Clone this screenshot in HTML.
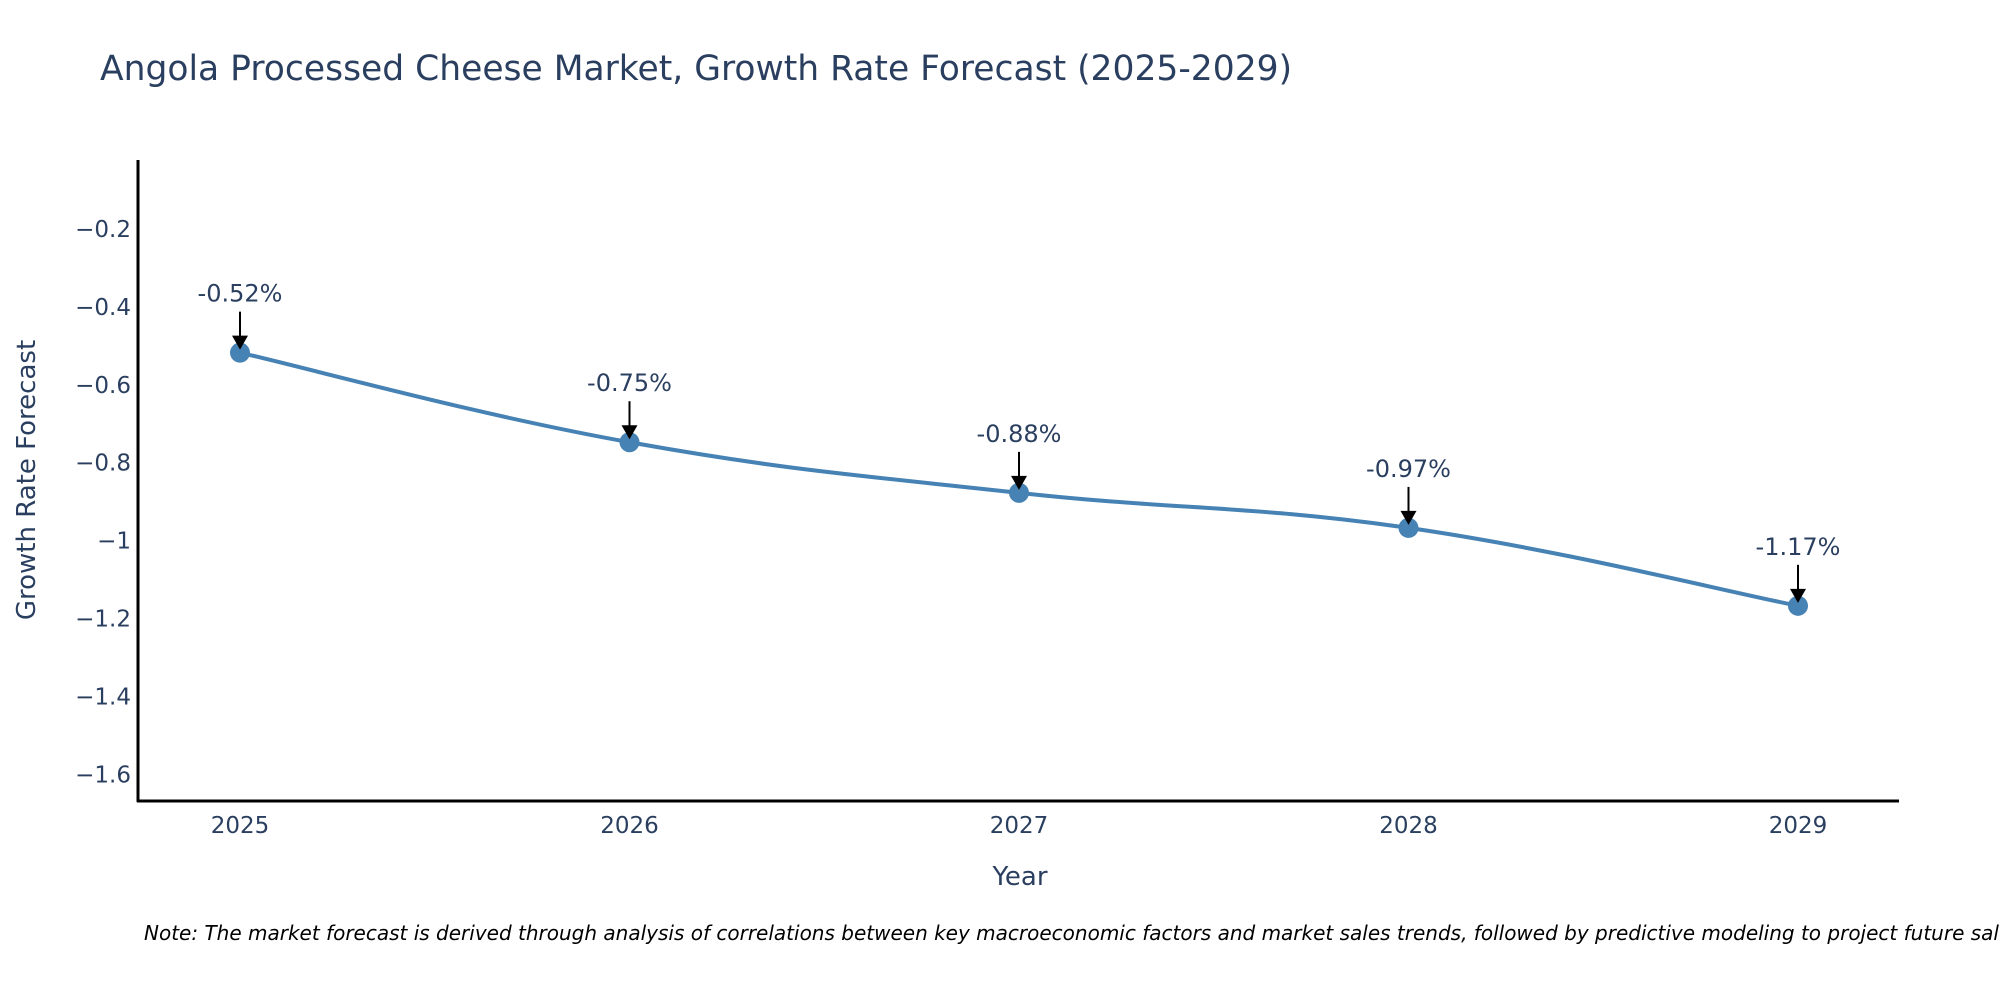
<!DOCTYPE html>
<html><head><meta charset="utf-8"><style>
html,body{margin:0;padding:0;background:#fff;}
svg{display:block;font-family:"DejaVu Sans","Liberation Sans",sans-serif;}
</style></head><body>
<svg id="chart" width="2000" height="1000" viewBox="0 0 2000 1000">
<text x="100" y="80" font-size="34.5" fill="#2a3f5f">Angola Processed Cheese Market, Growth Rate Forecast (2025-2029)</text>
<g id="yticks"></g>
<g id="xticks"></g>
<g id="series"></g>
<g id="annos"></g>
<line x1="138" y1="160" x2="138" y2="802" stroke="#000" stroke-width="3"/>
<line x1="137" y1="801" x2="1899" y2="801" stroke="#000" stroke-width="3"/>
<text x="1020" y="885" font-size="26" fill="#2a3f5f" text-anchor="middle">Year</text>
<text transform="translate(35,480) rotate(-90)" font-size="26" fill="#2a3f5f" text-anchor="middle">Growth Rate Forecast</text>
<text x="144" y="940" font-size="20" font-style="italic" fill="#000">Note: The market forecast is derived through analysis of correlations between key macroeconomic factors and market sales trends, followed by predictive modeling to project future sales.</text>
</svg>
<script>
const years = [2025, 2026, 2027, 2028, 2029];
const values = [-0.52, -0.75, -0.88, -0.97, -1.17];
const labels = ["-0.52%", "-0.75%", "-0.88%", "-0.97%", "-1.17%"];
const yTickValues = [-0.2, -0.4, -0.6, -0.8, -1, -1.2, -1.4, -1.6];
const yTickLabels = ["\u22120.2", "\u22120.4", "\u22120.6", "\u22120.8", "\u22121", "\u22121.2", "\u22121.4", "\u22121.6"];

const NS = "http://www.w3.org/2000/svg";
const xS = v => 240 + (v - 2025) * 389.5;
const yS = v => 228 + (-0.2 - v) / 0.2 * 77.9;
function mk(tag, attrs, parent) {
  const e = document.createElementNS(NS, tag);
  for (const k in attrs) e.setAttribute(k, attrs[k]);
  parent.appendChild(e);
  return e;
}
const yt = document.getElementById('yticks');
yTickValues.forEach((v, i) => {
  const t = mk('text', {x: 131, y: yS(v) + 9, 'font-size': 23, fill: '#2a3f5f', 'text-anchor': 'end'}, yt);
  t.textContent = yTickLabels[i];
  
  
});
const xt = document.getElementById('xticks');
years.forEach(y => {
  const t = mk('text', {x: xS(y), y: 833, 'font-size': 23, fill: '#2a3f5f', 'text-anchor': 'middle'}, xt);
  t.textContent = String(y);
  
  
});
const pts = years.map((y, i) => [xS(y), yS(values[i])]);
let d = `M${pts[0][0]},${pts[0][1]}`;
const s = 0.2;
for (let i = 0; i < pts.length - 1; i++) {
  const p0 = pts[Math.max(0, i - 1)], p1 = pts[i], p2 = pts[i + 1], p3 = pts[Math.min(pts.length - 1, i + 2)];
  const c1 = [p1[0] + (p2[0] - p0[0]) * s, p1[1] + (p2[1] - p0[1]) * s];
  const c2 = [p2[0] - (p3[0] - p1[0]) * s, p2[1] - (p3[1] - p1[1]) * s];
  d += ` C${c1[0]},${c1[1]} ${c2[0]},${c2[1]} ${p2[0]},${p2[1]}`;
}
const ser = document.getElementById('series');
const line = mk('path', {d: d, fill: 'none', stroke: '#4682b4', 'stroke-width': 4}, ser);


pts.forEach(p => {
  const c = mk('circle', {cx: p[0], cy: p[1], r: 10, fill: '#4682b4'}, ser);
  
  
});
const an = document.getElementById('annos');
pts.forEach((p, i) => {
  const l = mk('line', {x1: p[0], y1: p[1] - 41, x2: p[0], y2: p[1] - 16, stroke: '#000', 'stroke-width': 2}, an);
  
  
  const h = mk('polygon', {points: `${p[0]-8},${p[1]-17} ${p[0]+8},${p[1]-17} ${p[0]},${p[1]-3}`, fill: '#000'}, an);
  
  
  const t = mk('text', {x: p[0], y: p[1] - 51, 'font-size': 24, fill: '#2a3f5f', 'text-anchor': 'middle'}, an);
  t.textContent = labels[i];
  
  
});
</script>
</body></html>
